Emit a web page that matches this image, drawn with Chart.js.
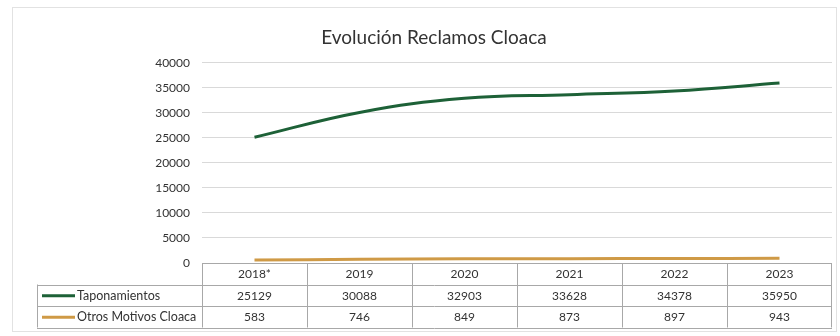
<!DOCTYPE html>
<html lang="es">
  <head>
    <meta charset="UTF-8" />
    <title>Evolución Reclamos Cloaca</title>
    <style>
      * {
        box-sizing: border-box;
        margin: 0;
        padding: 0;
      }

      body {
        background-color: #fff;
        width: 840px;
        height: 336px;
        overflow: hidden;
      }

      .chart-box {
        position: relative;
        width: 840px;
        height: 336px;
      }
    </style>
    <script src="https://cdn.jsdelivr.net/npm/chart.js"></script>
  </head>
  <body>
    <div class="chart-box">
      <canvas id="reclamosChart"></canvas>
    </div>
    <script>
      const years = ["2018*", "2019", "2020", "2021", "2022", "2023"];
      const taponamientos = [25129, 30088, 32903, 33628, 34378, 35950];
      const otrosMotivos = [583, 746, 849, 873, 897, 943];
      const seriesNames = ["Taponamientos", "Otros Motivos Cloaca"];
      const seriesColors = ["#1d6137", "#cf9a46"];

      const textColor = "#333333";
      const fontFamily = "Lato, 'Open Sans', sans-serif";

      // data table under the plot, columns follow the category scale
      const dataTable = {
        id: "dataTable",
        beforeDraw(chart) {
          const ctx = chart.ctx;
          ctx.save();
          ctx.fillStyle = "#fff";
          ctx.fillRect(0, 0, chart.width, chart.height);
          ctx.strokeStyle = "#e2e2e2";
          ctx.lineWidth = 1;
          ctx.strokeRect(12.5, 7.5, 824, 324);
          ctx.restore();
        },
        afterDraw(chart) {
          const ctx = chart.ctx;
          const xScale = chart.scales.x;
          const area = chart.chartArea;
          const half =
            (xScale.getPixelForValue(1) - xScale.getPixelForValue(0)) / 2;
          const tableLeft = area.left;
          const tableRight = area.right;
          const labelLeft = 37;
          const rowH = 21.5;
          const top = area.bottom;
          const rows = [top, top + rowH, top + rowH * 2, top + rowH * 3];

          ctx.save();
          ctx.strokeStyle = "#a8a8a8";
          ctx.lineWidth = 1;
          ctx.beginPath();
          // horizontal rules
          ctx.moveTo(tableLeft, Math.round(rows[0]) + 0.5);
          ctx.lineTo(tableRight, Math.round(rows[0]) + 0.5);
          for (let r = 1; r < rows.length; r++) {
            ctx.moveTo(labelLeft, Math.round(rows[r]) + 0.5);
            ctx.lineTo(tableRight, Math.round(rows[r]) + 0.5);
          }
          // vertical rules
          ctx.moveTo(labelLeft + 0.5, rows[1]);
          ctx.lineTo(labelLeft + 0.5, rows[3]);
          years.forEach((y, i) => {
            const xl = Math.round(xScale.getPixelForValue(i) - half) + 0.5;
            ctx.moveTo(xl, rows[0]);
            ctx.lineTo(xl, rows[3]);
          });
          ctx.moveTo(Math.round(tableRight) - 0.5, rows[0]);
          ctx.lineTo(Math.round(tableRight) - 0.5, rows[3]);
          ctx.stroke();

          ctx.fillStyle = textColor;
          ctx.textBaseline = "middle";
          ctx.textAlign = "center";
          ctx.font = "12px " + fontFamily;
          const values = [years, taponamientos, otrosMotivos];
          values.forEach((row, r) => {
            const cy = (rows[r] + rows[r + 1]) / 2 + 0.5;
            row.forEach((v, i) => {
              ctx.fillText(String(v), xScale.getPixelForValue(i), cy);
            });
          });

          // row headers with legend keys
          ctx.textAlign = "left";
          ctx.font = "12.5px " + fontFamily;
          seriesNames.forEach((name, s) => {
            const cy = (rows[s + 1] + rows[s + 2]) / 2 + 0.5;
            ctx.strokeStyle = seriesColors[s];
            ctx.lineWidth = 3;
            ctx.beginPath();
            ctx.moveTo(42, cy);
            ctx.lineTo(75, cy);
            ctx.stroke();
            ctx.fillText(name, 77, cy);
          });
          ctx.restore();
        },
      };

      new Chart(document.getElementById("reclamosChart"), {
        type: "line",
        data: {
          labels: years,
          datasets: [
            {
              label: seriesNames[0],
              data: taponamientos,
              borderColor: seriesColors[0],
              borderWidth: 3,
              tension: 0.4,
              pointRadius: 0,
            },
            {
              label: seriesNames[1],
              data: otrosMotivos,
              borderColor: seriesColors[1],
              borderWidth: 3,
              tension: 0.4,
              pointRadius: 0,
            },
          ],
        },
        options: {
          responsive: true,
          maintainAspectRatio: false,
          animation: false,
          layout: {
            padding: { left: 36, right: 8, top: 0, bottom: 0 },
          },
          plugins: {
            legend: { display: false },
            tooltip: { enabled: false },
            title: {
              display: true,
              text: "Evolución Reclamos Cloaca",
              color: textColor,
              font: { family: fontFamily, size: 19, weight: "normal" },
              padding: { top: 26, bottom: 14 },
            },
          },
          scales: {
            x: {
              offset: true,
              grid: { display: false },
              border: { display: false },
              ticks: { display: false },
              afterFit(scale) {
                scale.height = 73;
              },
            },
            y: {
              min: 0,
              max: 40000,
              ticks: {
                stepSize: 5000,
                color: textColor,
                padding: 12,
                font: { family: fontFamily, size: 12 },
                callback: (value) => String(value),
              },
              grid: { color: "#d9d9d9", drawTicks: false },
              border: { display: false },
              afterFit(scale) {
                scale.width = 166;
              },
            },
          },
        },
        plugins: [dataTable],
      });
    </script>
  </body>
</html>
